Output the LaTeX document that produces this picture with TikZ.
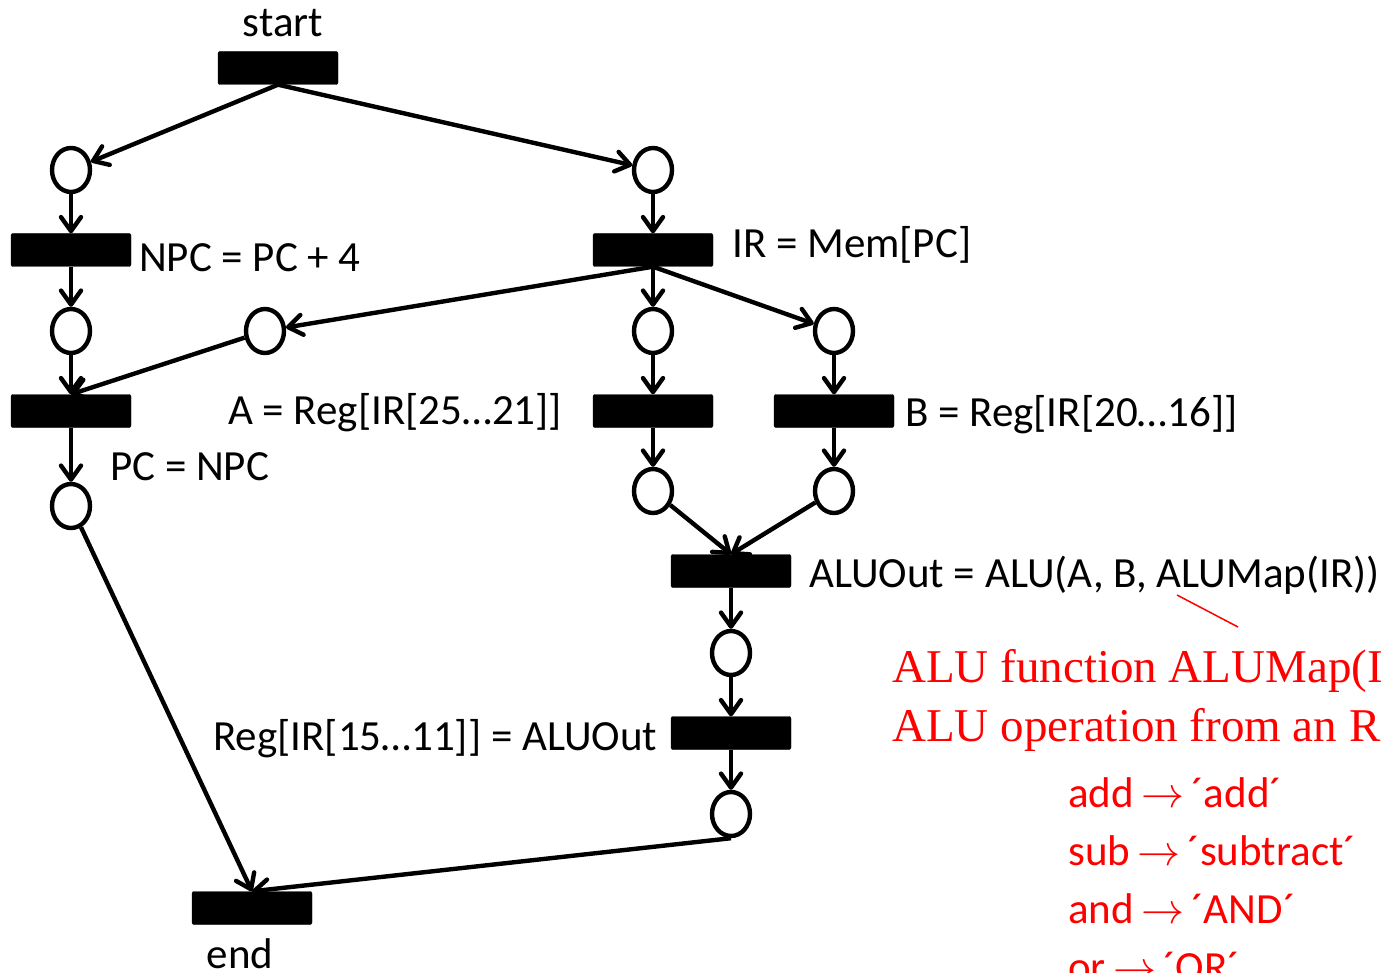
\RequirePackage{fix-cm}
\documentclass[tikz,border=0pt]{standalone}
\usepackage{fontspec}
\setmainfont{Carlito}
\newfontfamily\redserif{Liberation Serif}
\usetikzlibrary{arrows.meta,shapes.geometric}
\tikzset{
  bar/.style={fill=black,draw=black,rounded corners=2pt,minimum width=120pt,minimum height=33pt,inner sep=0pt},
  place/.style={ellipse,draw=black,line width=4.4pt,minimum width=38pt,minimum height=44pt,inner sep=0pt},
  arc/.style={line width=4.4pt,-{Straight Barb[length=14pt,width=20pt,line width=4.4pt,round]}},
  lbl/.style={font=\fontsize{43}{50}\selectfont,inner sep=0pt,anchor=base west},
  redlbl/.style={text=red,inner sep=0pt,anchor=base west},
}
\begin{document}
\begin{tikzpicture}[x=1pt,y=-1pt]
\useasboundingbox (0,0) rectangle (1383,973);
% transitions
\node[bar] (start) at (278,68) {};
\node[bar] (npc) at (71,250) {};
\node[bar] (ir) at (653,250) {};
\node[bar] (pc) at (71,411) {};
\node[bar] (ta) at (653,411) {};
\node[bar] (tb) at (834,411) {};
\node[bar] (alu) at (731,571) {};
\node[bar] (reg) at (731,733) {};
\node[bar] (end) at (252,908) {};
% places
\node[place] (p1) at (71,170) {};
\node[place] (p2) at (653,170) {};
\node[place] (p3) at (71,331) {};
\node[place] (p4) at (265,331) {};
\node[place] (p5) at (653,331) {};
\node[place] (p6) at (834,331) {};
\node[place] (p7) at (71,506) {};
\node[place] (p8) at (653,491) {};
\node[place] (p9) at (834,491) {};
\node[place] (p10) at (731,653) {};
\node[place] (p11) at (731,814) {};
% arcs
\draw[arc] (start.south) -- (p1);
\draw[arc] (start.south) -- (p2);
\draw[arc] (p1) -- (npc.north);
\draw[arc] (p2) -- (ir.north);
\draw[arc] (npc.south) -- (p3);
\draw[arc] (ir.south) -- (p4);
\draw[arc] (ir.south) -- (p5);
\draw[arc] (ir.south) -- (p6);
\draw[arc] (p3) -- (pc.north);
\draw[arc] (p4) -- (pc.north);
\draw[arc] (p5) -- (ta.north);
\draw[arc] (p6) -- (tb.north);
\draw[arc] (pc.south) -- (p7);
\draw[arc] (ta.south) -- (p8);
\draw[arc] (tb.south) -- (p9);
\draw[arc] (p8) -- (alu.north);
\draw[arc] (p9) -- (alu.north);
\draw[arc] (alu.south) -- (p10);
\draw[arc] (p10) -- (reg.north);
\draw[arc] (reg.south) -- (p11);
\draw[arc] (p7) -- (end.north);
\draw[arc] (p11.south) -- (end.north);
% labels
\node[lbl,anchor=base] (tstart) at (283,37) {start};
\node[lbl,anchor=base] (tend) at (240,968) {end};
\node[lbl] (tnpc) at (139,272) {NPC = PC + 4};
\node[lbl] (tir) at (732,258) {IR = Mem[PC]};
\node[lbl] (ta) at (228,424) {A = Reg[IR[25…21]]};
\node[lbl] (tpc) at (110,480) {PC = NPC};
\node[lbl] (tb) at (905,426) {B = Reg[IR[20…16]]};
\node[lbl] (talu) at (809,587) {ALUOut = ALU(A, B, ALUMap(IR))};
\node[lbl] (treg) at (213,750) {Reg[IR[15…11]] = ALUOut};
% red annotation
\coordinate (r1) at (1177,595);
\coordinate (r2) at (1238,627);
\draw[red,line width=1.5pt] (r1) -- (r2);
\node[redlbl,font=\redserif\fontsize{47}{56}\selectfont] (n1) at (892,682) {ALU function ALUMap(I};
\node[redlbl,font=\redserif\fontsize{47}{56}\selectfont] (n2) at (892,741) {ALU operation from an R};
\node[redlbl,font=\fontsize{43}{50}\selectfont] (m1) at (1068,807) {add\,$\rightarrow$\,´add´};
\node[redlbl,font=\fontsize{43}{50}\selectfont] (m2) at (1068,865) {sub\,$\rightarrow$\,´subtract´};
\node[redlbl,font=\fontsize{43}{50}\selectfont] (m3) at (1068,923) {and\,$\rightarrow$\,´AND´};
\node[redlbl,font=\fontsize{43}{50}\selectfont] (m4) at (1068,981) {or\,$\rightarrow$\,´OR´};
\end{tikzpicture}
\end{document}
